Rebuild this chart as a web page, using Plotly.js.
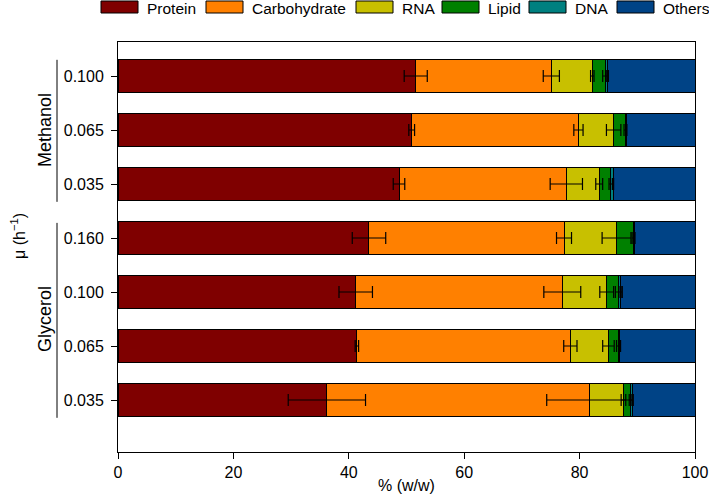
<!DOCTYPE html>
<html>
<head>
<meta charset="utf-8">
<script src="https://cdn.plot.ly/plotly-3.0.1.min.js"></script>
<style>html,body{margin:0;padding:0;background:#fff}#chart{width:709px;height:499px}</style>
</head>
<body>
<div id="chart"></div>
<script>
// Categories, bottom to top
const groups = ["Glycerol","Glycerol","Glycerol","Glycerol","Methanol","Methanol","Methanol"];
const rates = ["0.035","0.065","0.100","0.160","0.035","0.065","0.100"];

const protein = [36.2, 41.4, 41.2, 43.5, 48.7, 50.9, 51.6];
const carbohydrate = [45.5, 37.0, 35.8, 33.8, 29.0, 28.9, 23.5];
const rna = [5.9, 6.6, 7.7, 9.1, 5.7, 6.1, 7.1];
const lipid = [1.3, 1.7, 2.1, 2.9, 2.0, 2.0, 2.3];
const dna = [0.3, 0.3, 0.3, 0.2, 0.4, 0.2, 0.3];
const others = [10.8, 13.0, 12.9, 10.5, 14.2, 11.9, 15.2];

const proteinErr = [6.7, 0.3, 2.9, 2.9, 1.0, 0.5, 2.0];
const carbohydrateErr = [7.4, 1.15, 3.2, 1.3, 2.8, 0.8, 1.4];
const rnaErr = [0.4, 1.0, 1.2, 2.5, 0.6, 1.25, 0.3];
const lipidErr = [0.3, 0.3, 0.6, 0.2, 0.3, 0.2, 0.5];
const dnaErr = [0.1, 0.1, 0.1, 0.1, 0.1, 0.1, 0.1];

const seriesNames = ["Protein","Carbohydrate","RNA","Lipid","DNA","Others"];
const seriesColors = ["#7f0000","#ff8000","#c8c000","#008000","#008080","#004386"];
const seriesValues = [protein, carbohydrate, rna, lipid, dna, others];
const seriesErrors = [proteinErr, carbohydrateErr, rnaErr, lipidErr, dnaErr, null];

const yIdx = rates.map((_, i) => i);

const traces = seriesNames.map((name, k) => ({
  type: "bar", orientation: "h", name: name,
  x: seriesValues[k], y: yIdx,
  marker: {color: seriesColors[k], line: {color: "#000", width: 1}},
  showlegend: false, hoverinfo: "x+name"
}));

// error bars drawn on top, at the end of each stacked segment
const running = yIdx.map(() => 0);
seriesNames.forEach((name, k) => {
  const ends = seriesValues[k].map((v, i) => (running[i] += v));
  if (seriesErrors[k]) {
    traces.push({
      type: "scatter", mode: "markers", x: ends.slice(), y: yIdx,
      marker: {size: 1, opacity: 0}, showlegend: false, hoverinfo: "skip",
      error_x: {type: "data", array: seriesErrors[k], visible: true, color: "#000", thickness: 1.2, width: 6}
    });
  }
});

// pixel helpers for the plot area (118..695 x, 42..452 y)
const L = 118, R = 695, T = 42, B = 452;
const px = v => (v - L) / (R - L);
const py = v => (B - v) / (B - T);

const shapes = [];
const annotations = [];

// custom legend
const legendSw = [101, 206, 356, 442, 529, 617];
seriesNames.forEach((name, k) => {
  shapes.push({type: "rect", xref: "paper", yref: "paper",
    x0: px(legendSw[k]), x1: px(legendSw[k] + 37), y0: py(13), y1: py(1),
    fillcolor: seriesColors[k], line: {color: "#000", width: 1}});
  annotations.push({xref: "paper", yref: "paper", x: px(legendSw[k] + 44), y: py(9),
    xanchor: "left", yanchor: "middle", text: name, showarrow: false,
    font: {size: 15.5, color: "#000"}});
});

// group brackets and labels
const groupNames = ["Methanol", "Glycerol"];
const groupSpan = {Methanol: [3.67, 6.3], Glycerol: [-0.33, 3.28]};
groupNames.forEach(g => {
  const idx = yIdx.filter(i => groups[i] === g);
  const mid = (idx[0] + idx[idx.length - 1]) / 2;
  shapes.push({type: "line", xref: "paper", yref: "y",
    x0: px(57), x1: px(57), y0: groupSpan[g][0], y1: groupSpan[g][1],
    line: {color: "#000", width: 1}});
  annotations.push({xref: "paper", yref: "y", x: px(45), y: mid, textangle: -90,
    xanchor: "center", yanchor: "middle", text: g, showarrow: false,
    font: {size: 18, color: "#000"}});
});

annotations.push({xref: "paper", yref: "paper", x: px(18), y: py(236), textangle: -90,
  xanchor: "center", yanchor: "middle", text: "μ (h<sup>−1</sup>)", showarrow: false,
  font: {size: 16, color: "#000"}});
annotations.push({xref: "paper", yref: "paper", x: 0.5, y: py(485),
  xanchor: "center", yanchor: "middle", text: "% (w/w)", showarrow: false,
  font: {size: 16, color: "#000"}});

const layout = {
  width: 709, height: 499,
  margin: {l: L, r: 709 - R, t: T, b: 499 - B, pad: 0},
  barmode: "stack", bargap: 0.4,
  paper_bgcolor: "#fff", plot_bgcolor: "#fff",
  font: {family: "Liberation Sans, Arial, sans-serif", size: 16, color: "#000"},
  showlegend: false,
  xaxis: {range: [0, 100], tickvals: [0, 20, 40, 60, 80, 100],
    ticks: "outside", ticklen: 6, tickcolor: "#000", showline: true, linecolor: "#000",
    linewidth: 1, mirror: true, showgrid: false, zeroline: false, fixedrange: true,
    tickfont: {size: 16}},
  yaxis: {range: [-0.963, 6.63], tickvals: yIdx, ticktext: rates,
    ticks: "outside", ticklen: 6, tickcolor: "#000", showline: true, linecolor: "#000",
    linewidth: 1, mirror: true, showgrid: false, zeroline: false, fixedrange: true,
    ticklabelstandoff: 4, tickfont: {size: 16}},
  shapes: shapes,
  annotations: annotations
};

Plotly.newPlot("chart", traces, layout, {displayModeBar: false, staticPlot: true});
</script>
</body>
</html>
